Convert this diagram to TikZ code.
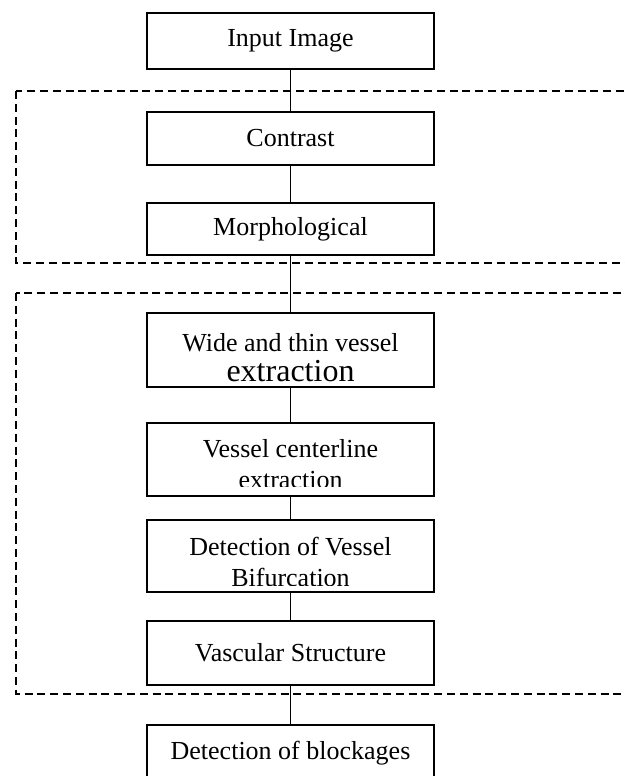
\documentclass[tikz,border=0pt]{standalone}
\usepackage{fontspec}
\setmainfont{Liberation Serif}
\begin{document}
\begin{tikzpicture}[x=0.5pt,y=-0.5pt,
  stage/.style={draw,line width=0.9pt,minimum width=143.5pt,inner sep=0pt,
    font=\fontsize{13}{15.5}\selectfont},
  note/.style={align=center,inner sep=0pt,font=\fontsize{13}{15.5}\selectfont},
  group/.style={draw,line width=0.9pt,dash pattern=on 4pt off 2.4pt},
  link/.style={line width=0.8pt}]
\useasboundingbox (0,0) rectangle (625,776);
\clip (0,0) rectangle (625,776);
% dashed groups
\draw[group](16,91) rectangle (660,263);
\draw[group](16,293) rectangle (660,694);
% stages
\node[stage,minimum height=28pt] (input) at (290.5,41) {Input Image};
\node[stage,minimum height=26.5pt] (contrast) at (290.5,138.5) {Contrast};
\node[stage,minimum height=26pt] (morph) at (290.5,229) {Morphological};
\node[stage,minimum height=37pt] (wide) at (290.5,350) {};
\node[note] (wide-t) at (290.5,358) {Wide and thin vessel\\[-0.5pt]{\fontsize{16}{18}\selectfont extraction}};
\node[stage,minimum height=36.5pt] (center) at (290.5,459.5) {};
\begin{scope}
\clip ([yshift=5pt]center.south west) rectangle (center.north east);
\node[note] (center-t) at (290.5,464) {Vessel centerline\\extraction};
\end{scope}
\node[stage,minimum height=36pt] (bif) at (290.5,556) {};
\begin{scope}
\clip ([yshift=3.5pt]bif.south west) rectangle (bif.north east);
\node[note] (bif-t) at (290.5,561.5) {Detection of Vessel\\Bifurcation};
\end{scope}
\node[stage,minimum height=32pt] (vasc) at (290.5,653) {Vascular Structure};
\node[stage,minimum height=28.5pt] (block) at (290.5,753.5) {Detection of blockages};
% connectors
\draw[link](input)--(contrast);
\draw[link](contrast)--(morph);
\draw[link](morph)--(wide);
\draw[link](wide)--(center);
\draw[link](center)--(bif);
\draw[link](bif)--(vasc);
\draw[link](vasc)--(block);
\end{tikzpicture}
\end{document}
